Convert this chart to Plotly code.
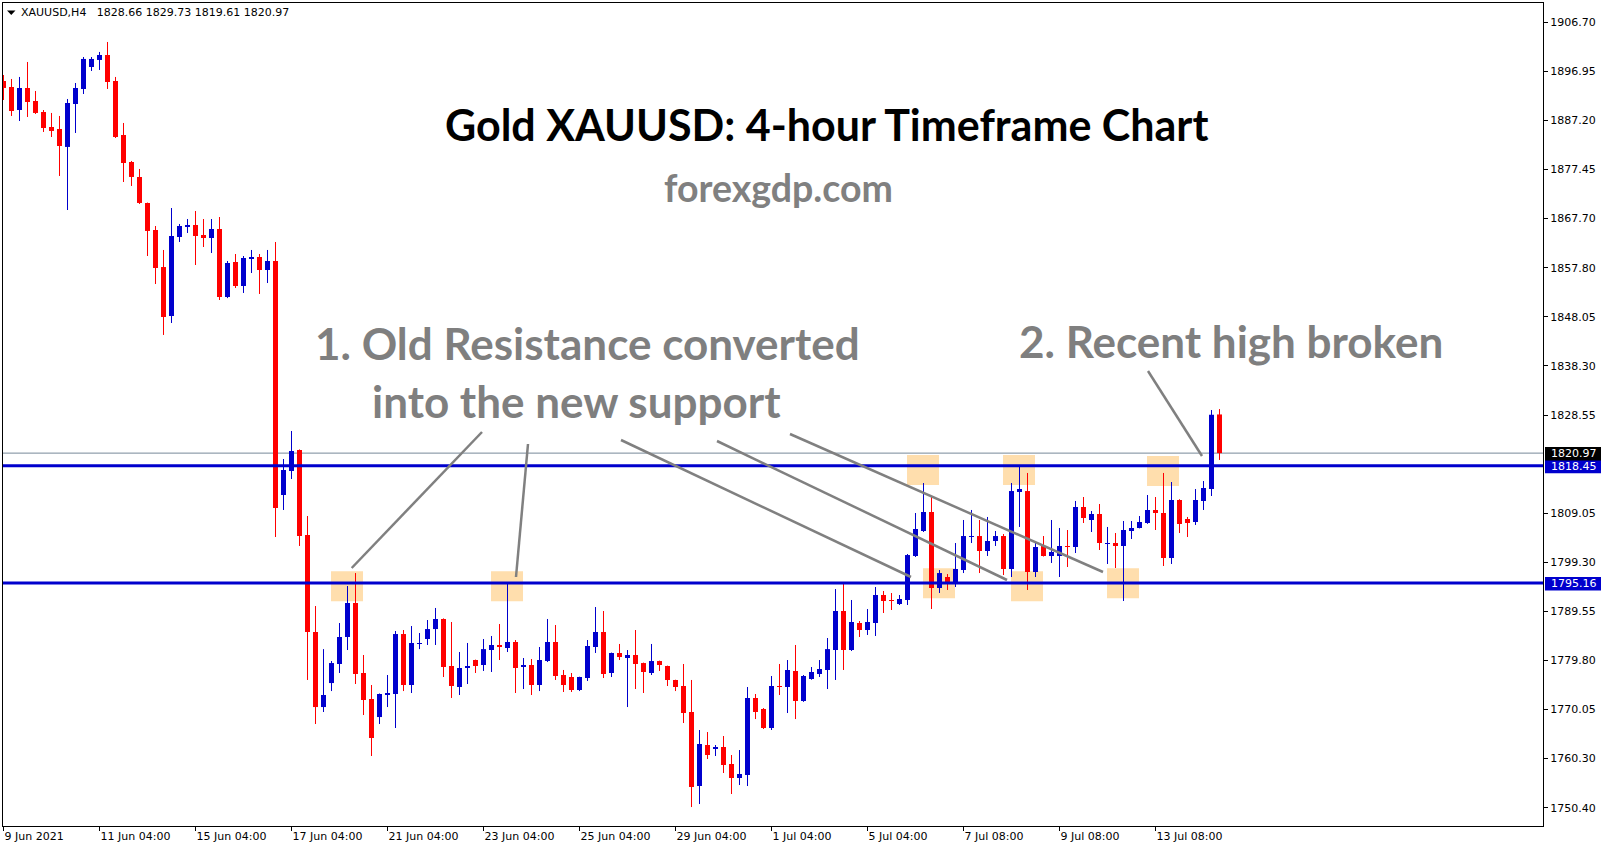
import plotly.graph_objects as go

# ---------------- data (XAUUSD H4 candles) ----------------
opens = [1894.98, 1893.79, 1889.21, 1893.59, 1891.00, 1888.81, 1885.83, 1885.43, 1881.86, 1890.40,
         1893.39, 1897.76, 1899.16, 1900.15, 1894.98, 1884.24, 1878.87, 1875.89, 1870.72, 1865.35,
         1857.98, 1848.24, 1863.95, 1865.94, 1866.34, 1864.35, 1863.75, 1865.54, 1852.02, 1858.98,
         1854.21, 1859.58, 1859.98, 1857.39, 1859.18, 1812.64, 1817.41, 1821.59, 1804.68, 1785.39,
         1770.47, 1775.24, 1779.03, 1784.40, 1791.16, 1777.24, 1772.07, 1768.48, 1772.86, 1773.06,
         1784.99, 1774.85, 1783.01, 1784.00, 1785.98, 1787.98, 1778.63, 1774.45, 1778.23, 1779.82,
         1778.83, 1781.81, 1782.81, 1782.21, 1783.40, 1778.43, 1778.83, 1774.85, 1779.62, 1783.40,
         1776.84, 1776.44, 1773.86, 1776.24, 1782.41, 1785.39, 1777.24, 1781.22, 1780.22, 1780.82,
         1779.22, 1777.24, 1779.62, 1778.63, 1775.85, 1774.65, 1769.48, 1754.76, 1762.92, 1762.12,
         1762.52, 1759.14, 1756.35, 1756.95, 1772.27, 1770.08, 1766.30, 1774.65, 1774.45, 1777.64,
         1771.67, 1776.04, 1777.04, 1777.84, 1781.81, 1789.57, 1781.81, 1787.18, 1785.79, 1787.18,
         1792.75, 1791.76, 1790.96, 1791.76, 1800.51, 1805.48, 1809.26, 1794.14, 1796.33, 1795.14,
         1797.72, 1804.28, 1804.48, 1801.50, 1803.49, 1804.48, 1797.92, 1813.24, 1813.43, 1797.32,
         1802.50, 1800.51, 1800.51, 1802.50, 1802.30, 1810.25, 1807.67, 1808.86, 1802.89, 1803.09,
         1802.50, 1805.48, 1806.08, 1807.07, 1809.66, 1809.06, 1800.11, 1811.65, 1807.87, 1807.27,
         1811.45, 1813.83, 1828.66]
highs = [1896.17, 1895.38, 1895.78, 1898.76, 1892.99, 1889.21, 1888.62, 1888.02, 1891.40, 1894.58,
         1899.75, 1899.75, 1900.75, 1902.74, 1895.78, 1886.63, 1879.07, 1877.48, 1870.80, 1866.14,
         1861.37, 1869.72, 1866.54, 1867.53, 1869.12, 1867.53, 1867.53, 1867.93, 1859.18, 1860.57,
         1860.17, 1861.37, 1860.57, 1861.37, 1862.96, 1819.80, 1825.37, 1821.70, 1808.46, 1790.56,
         1781.99, 1779.62, 1787.18, 1794.54, 1797.12, 1780.82, 1774.85, 1773.16, 1776.84, 1785.59,
         1785.79, 1786.58, 1785.19, 1787.78, 1790.17, 1788.10, 1787.38, 1781.41, 1783.21, 1779.90,
         1784.00, 1784.60, 1786.98, 1795.14, 1783.80, 1780.22, 1780.02, 1782.41, 1787.98, 1786.78,
         1777.84, 1777.24, 1776.50, 1783.80, 1790.36, 1789.57, 1781.30, 1783.01, 1781.81, 1785.79,
         1779.30, 1783.01, 1779.70, 1778.70, 1775.90, 1779.03, 1775.85, 1765.90, 1765.50, 1762.92,
         1764.71, 1760.93, 1761.92, 1774.45, 1773.06, 1770.27, 1776.64, 1779.03, 1779.82, 1782.81,
         1776.84, 1778.43, 1779.82, 1784.20, 1793.94, 1794.94, 1791.76, 1787.58, 1789.96, 1794.34,
         1793.55, 1793.15, 1792.75, 1800.90, 1809.06, 1815.02, 1812.24, 1797.72, 1796.92, 1803.09,
         1807.67, 1809.66, 1807.67, 1808.27, 1805.48, 1804.88, 1815.02, 1818.40, 1817.02, 1803.09,
         1804.48, 1807.67, 1806.08, 1805.68, 1811.45, 1812.24, 1809.46, 1810.85, 1806.28, 1805.08,
         1807.47, 1807.47, 1808.46, 1812.64, 1812.24, 1817.02, 1815.22, 1811.80, 1808.27, 1813.83,
         1815.42, 1829.54, 1829.73]
lows = [1891.20, 1888.02, 1887.02, 1887.82, 1888.42, 1884.84, 1883.84, 1876.09, 1869.32, 1884.64,
        1892.39, 1896.97, 1897.17, 1893.39, 1883.64, 1874.89, 1874.10, 1870.52, 1860.17, 1854.60,
        1844.47, 1846.85, 1862.96, 1864.75, 1858.38, 1861.96, 1860.77, 1851.42, 1851.80, 1853.81,
        1852.82, 1856.79, 1852.62, 1854.80, 1804.28, 1809.66, 1815.82, 1802.50, 1775.85, 1767.09,
        1769.48, 1773.65, 1777.24, 1781.81, 1775.05, 1768.88, 1760.73, 1767.09, 1770.47, 1766.30,
        1773.65, 1773.26, 1781.99, 1782.81, 1782.81, 1776.44, 1772.27, 1772.86, 1775.05, 1777.24,
        1777.64, 1777.44, 1779.82, 1781.41, 1773.26, 1774.05, 1772.86, 1773.65, 1779.42, 1775.85,
        1773.46, 1773.46, 1773.65, 1775.65, 1781.22, 1776.24, 1776.44, 1779.82, 1770.47, 1774.05,
        1773.26, 1776.84, 1777.64, 1774.65, 1773.65, 1767.29, 1750.58, 1751.18, 1760.13, 1760.73,
        1757.35, 1753.17, 1754.96, 1754.76, 1768.08, 1766.10, 1765.90, 1772.86, 1769.28, 1768.08,
        1771.50, 1775.90, 1776.44, 1774.05, 1775.85, 1777.84, 1781.61, 1784.40, 1784.80, 1784.60,
        1789.17, 1789.77, 1790.76, 1790.76, 1800.31, 1805.28, 1789.97, 1793.15, 1793.75, 1794.34,
        1797.12, 1803.09, 1797.12, 1800.51, 1802.50, 1796.73, 1796.33, 1806.28, 1793.75, 1796.33,
        1800.40, 1799.12, 1796.33, 1798.32, 1801.10, 1807.07, 1805.28, 1801.70, 1798.92, 1798.12,
        1791.56, 1803.89, 1806.00, 1806.90, 1805.68, 1798.52, 1798.92, 1805.08, 1804.28, 1806.68,
        1809.66, 1812.44, 1819.61]
closes = [1893.59, 1889.01, 1893.59, 1890.80, 1888.62, 1885.63, 1885.04, 1882.05, 1890.60, 1893.59,
          1899.36, 1899.36, 1900.15, 1894.78, 1883.84, 1878.67, 1875.89, 1870.72, 1865.15, 1857.79,
          1848.04, 1864.15, 1866.14, 1866.34, 1864.15, 1863.75, 1865.54, 1852.02, 1858.78, 1854.21,
          1859.78, 1859.98, 1857.39, 1859.18, 1810.05, 1817.61, 1821.39, 1804.48, 1785.39, 1770.47,
          1772.86, 1779.22, 1784.40, 1791.16, 1777.04, 1771.87, 1764.31, 1773.06, 1773.26, 1784.99,
          1774.85, 1783.21, 1783.21, 1785.98, 1787.98, 1778.43, 1774.65, 1778.23, 1778.63, 1778.63,
          1781.99, 1782.81, 1782.41, 1783.40, 1778.23, 1778.83, 1774.85, 1779.82, 1783.40, 1776.64,
          1774.85, 1773.86, 1776.44, 1782.61, 1785.39, 1777.04, 1781.22, 1780.42, 1780.82, 1779.03,
          1777.44, 1779.62, 1778.83, 1775.85, 1774.45, 1769.28, 1754.56, 1763.12, 1760.93, 1762.52,
          1758.94, 1756.35, 1757.15, 1772.27, 1769.48, 1766.30, 1774.65, 1774.45, 1777.84, 1771.67,
          1776.64, 1777.44, 1778.03, 1781.99, 1789.57, 1781.81, 1787.38, 1785.79, 1787.38, 1792.75,
          1791.56, 1791.56, 1791.96, 1800.70, 1805.88, 1809.26, 1794.14, 1797.12, 1795.34, 1797.92,
          1804.48, 1804.48, 1801.50, 1803.49, 1804.48, 1797.92, 1813.43, 1813.83, 1797.32, 1802.30,
          1800.51, 1801.30, 1802.50, 1802.30, 1810.25, 1808.07, 1808.86, 1803.09, 1803.09, 1802.50,
          1805.68, 1806.08, 1807.27, 1809.66, 1809.06, 1800.11, 1811.65, 1806.87, 1807.07, 1811.65,
          1814.03, 1828.60, 1820.97]

x_tick_bars = [0, 12, 24, 36, 48, 60, 72, 84, 96, 108, 120, 132, 144]
x_tick_text = ["9 Jun 2021", "11 Jun 04:00", "15 Jun 04:00", "17 Jun 04:00", "21 Jun 04:00",
               "23 Jun 04:00", "25 Jun 04:00", "29 Jun 04:00", "1 Jul 04:00", "5 Jul 04:00",
               "7 Jul 08:00", "9 Jul 08:00", "13 Jul 08:00"]
y_tick_values = [1906.70, 1896.95, 1887.20, 1877.45, 1867.70, 1857.80, 1848.05, 1838.30, 1828.55,
                 1809.05, 1799.30, 1789.55, 1779.80, 1770.05, 1760.30, 1750.40]

resistance_level = 1818.45
support_level = 1795.16
last_price = 1820.97
header_text = "XAUUSD,H4\u00a0\u00a0\u00a01828.66 1829.73 1819.61 1820.97"
title_text = "Gold XAUUSD: 4-hour Timeframe Chart"
site_text = "forexgdp.com"
note1_line1 = "1. Old Resistance converted"
note1_line2 = "into the new support"
note2_text = "2. Recent high broken"

# highlight boxes: (bar index of centre, price of centre)
zones = [(43, 1794.5), (63, 1794.5), (115, 1817.6), (117, 1795.1), (127, 1817.6),
         (128, 1794.5), (140, 1795.1), (145, 1817.4)]

# ---------------- geometry ----------------
W, H = 1607, 850
ML, MR, MT, MB = 3, 64, 3, 24
PW, PH = W - ML - MR, H - MT - MB
X_RANGE = [-0.0625, 192.4375]
Y_RANGE = [1746.81, 1910.49]


def px_x(px):
    return X_RANGE[0] + (px - ML) / PW * (X_RANGE[1] - X_RANGE[0])


def px_y(py):
    return Y_RANGE[1] - (py - MT) / PH * (Y_RANGE[1] - Y_RANGE[0])


def pap_x(px):
    return (px - ML) / PW


def pap_y(py):
    return (H - MB - py) / PH


def price_py(p):
    return MT + (Y_RANGE[1] - p) / (Y_RANGE[1] - Y_RANGE[0]) * PH


BULL = "#0000CD"
BEAR = "#FF0000"
LINE_BLUE = "#0000CD"

fig = go.Figure()

idx = list(range(len(opens)))
for color, is_bull in ((BULL, True), (BEAR, False)):
    sel = [i for i in idx if (closes[i] >= opens[i]) == is_bull]
    wx, wy = [], []
    for i in sel:
        wx += [i, i, None]
        wy += [lows[i], highs[i], None]
    fig.add_trace(go.Scatter(x=wx, y=wy, mode="lines", line=dict(color=color, width=1),
                             hoverinfo="skip", showlegend=False))
    fig.add_trace(go.Bar(x=sel,
                         y=[max(abs(closes[i] - opens[i]), 0.2) for i in sel],
                         base=[min(opens[i], closes[i]) for i in sel],
                         width=0.625, marker=dict(color=color, line=dict(width=0)),
                         hoverinfo="skip", showlegend=False))

shapes = []
# peach highlight zones (behind candles)
for k, pc in zones:
    shapes.append(dict(type="rect", xref="x", yref="y", x0=k - 2.06, x1=k + 1.94,
                       y0=pc - 2.98, y1=pc + 2.98, fillcolor="#FFDEAD", line=dict(width=0),
                       layer="below"))
# bid line
shapes.append(dict(type="line", xref="paper", yref="y", x0=0, x1=1, y0=last_price, y1=last_price,
                   line=dict(color="#778899", width=1), layer="below"))
# support / resistance lines
for lvl in (resistance_level, support_level):
    shapes.append(dict(type="line", xref="paper", yref="y", x0=0, x1=1, y0=lvl, y1=lvl,
                       line=dict(color=LINE_BLUE, width=3), layer="above"))
# pointer lines (pixel endpoints converted to axis units)
pointers = [((351.7, 568), (482, 432)), ((516, 577), (528, 444)), ((621, 440), (911, 577)),
            ((717, 441), (1007, 580)), ((790, 434), (1103, 572)), ((1148, 371), (1202, 456))]
for (ax_, ay_), (bx_, by_) in pointers:
    shapes.append(dict(type="line", xref="x", yref="y", x0=px_x(ax_), y0=px_y(ay_),
                       x1=px_x(bx_), y1=px_y(by_), line=dict(color="#808080", width=2.5),
                       layer="above"))
# right-side price boxes
for lvl, col in ((resistance_level, LINE_BLUE), (support_level, LINE_BLUE), (last_price, "#000000")):
    py = price_py(lvl)
    shapes.append(dict(type="rect", xref="paper", yref="paper", x0=pap_x(1545), x1=pap_x(1601),
                       y0=pap_y(py + 7.5), y1=pap_y(py - 6), fillcolor=col, line=dict(width=0),
                       layer="above"))
# header triangle
shapes.append(dict(type="path", xref="paper", yref="paper",
                   path=f"M {pap_x(7)},{pap_y(10.5)} L {pap_x(15.5)},{pap_y(10.5)} L {pap_x(11.25)},{pap_y(15)} Z",
                   fillcolor="#000000", line=dict(width=0), layer="above"))

annotations = []
for lvl in (resistance_level, support_level, last_price):
    py = price_py(lvl)
    annotations.append(dict(xref="paper", yref="paper", x=pap_x(1549), y=pap_y(py + 0.5),
                            xanchor="left", yanchor="middle", showarrow=False,
                            text=f"{lvl:.2f}", font=dict(family="DejaVu Sans", size=11, color="#FFFFFF")))
annotations.append(dict(xref="paper", yref="paper", x=pap_x(19), y=pap_y(12.7), xanchor="left",
                        yanchor="middle", showarrow=False, text=header_text,
                        font=dict(family="DejaVu Sans", size=11, color="#000000")))
annotations.append(dict(xref="paper", yref="paper", x=pap_x(826.5), y=pap_y(125), xanchor="center",
                        yanchor="middle", showarrow=False, text=f"<b>{title_text}</b>",
                        font=dict(family="Lato", size=43, color="#000000")))
annotations.append(dict(xref="paper", yref="paper", x=pap_x(779), y=pap_y(188), xanchor="center",
                        yanchor="middle", showarrow=False, text=f"<b>{site_text}</b>",
                        font=dict(family="Lato", size=37.5, color="#808080")))
annotations.append(dict(xref="paper", yref="paper", x=pap_x(587), y=pap_y(343), xanchor="center",
                        yanchor="middle", showarrow=False, text=f"<b>{note1_line1}</b>",
                        font=dict(family="Lato", size=44, color="#7F7F7F")))
annotations.append(dict(xref="paper", yref="paper", x=pap_x(576), y=pap_y(401), xanchor="center",
                        yanchor="middle", showarrow=False, text=f"<b>{note1_line2}</b>",
                        font=dict(family="Lato", size=44, color="#7F7F7F")))
annotations.append(dict(xref="paper", yref="paper", x=pap_x(1230.5), y=pap_y(341), xanchor="center",
                        yanchor="middle", showarrow=False, text=f"<b>{note2_text}</b>",
                        font=dict(family="Lato", size=44, color="#7F7F7F")))

axis_font = dict(family="DejaVu Sans", size=11, color="#000000")
fig.update_layout(
    width=W, height=H, autosize=False,
    margin=dict(l=ML, r=MR, t=MT, b=MB, pad=0),
    paper_bgcolor="#FFFFFF", plot_bgcolor="#FFFFFF",
    barmode="overlay", showlegend=False,
    shapes=shapes, annotations=annotations,
    xaxis=dict(range=X_RANGE, tickmode="array", tickvals=x_tick_bars, ticktext=x_tick_text,
               ticks="outside", ticklen=4, tickcolor="#000000", tickwidth=1,
               ticklabelposition="outside right", tickfont=axis_font,
               showgrid=False, zeroline=False, showline=True, linecolor="#000000", linewidth=1,
               mirror=True, fixedrange=True),
    yaxis=dict(range=Y_RANGE, side="right", tickmode="array", tickvals=y_tick_values,
               ticktext=[f"{v:.2f}" for v in y_tick_values], ticks="outside", ticklen=4,
               tickcolor="#000000", tickwidth=1, tickfont=axis_font,
               showgrid=False, zeroline=False, showline=True, linecolor="#000000", linewidth=1,
               mirror=True, fixedrange=True),
)

fig.write_html("out.html",
               config={"displayModeBar": False, "staticPlot": True},
               post_script="document.body.style.margin='0px';document.body.style.overflow='hidden';")
